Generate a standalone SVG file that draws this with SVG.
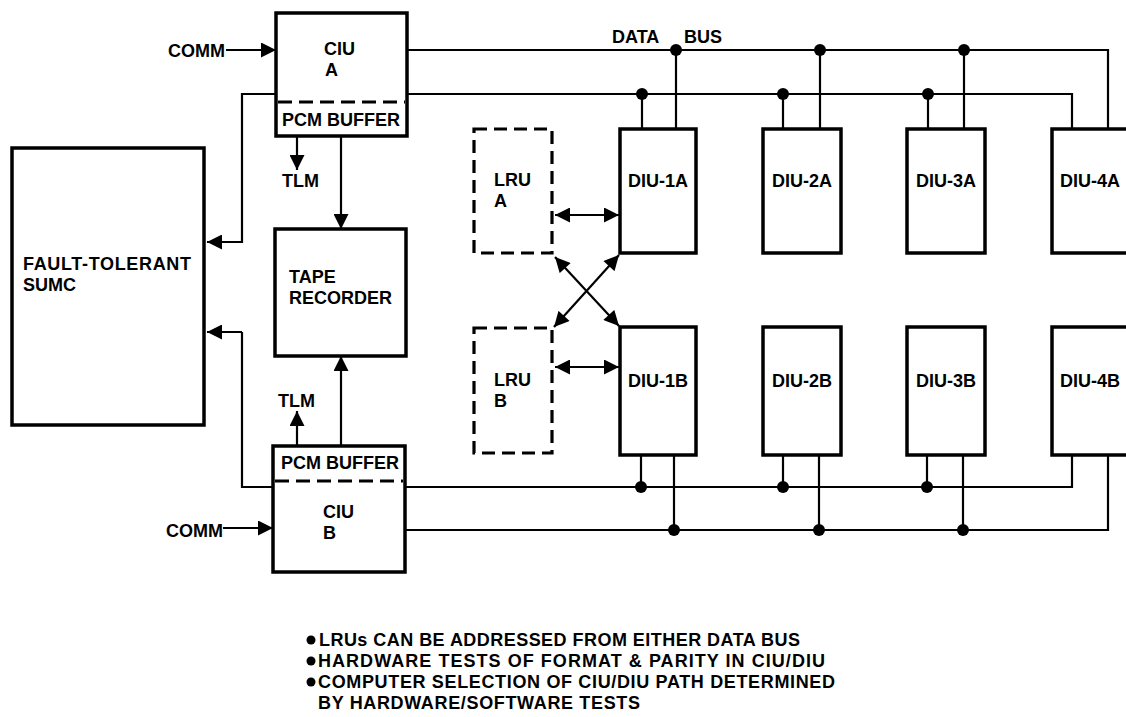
<svg xmlns="http://www.w3.org/2000/svg" width="1126" height="717" viewBox="0 0 1126 717">
<style>
text{font-family:"Liberation Sans",Arial,sans-serif;font-weight:bold;font-size:18px;fill:#000}
.box{fill:#fff;stroke:#000;stroke-width:3.5}
.dbox{fill:#fff;stroke:#000;stroke-width:3.2;stroke-dasharray:13 7}
.div{stroke:#000;stroke-width:3.2;stroke-dasharray:14 7}
.ln{fill:none;stroke:#000;stroke-width:2.2}
.arr{fill:none;stroke:#000;stroke-width:2.2;marker-end:url(#ah)}
.arr2{fill:none;stroke:#000;stroke-width:2.2;marker-end:url(#ah);marker-start:url(#ah)}
.dot{fill:#000}
</style>
<defs>
<marker id="ah" viewBox="0 0 16 16" refX="16" refY="8" markerWidth="16" markerHeight="15" markerUnits="userSpaceOnUse" orient="auto-start-reverse">
<path d="M0,0 L16,8 L0,16 z" fill="#000"/>
</marker>
</defs>
<rect width="1126" height="717" fill="#fff"/>
<g id="connectors">
<line class="arr" x1="226" y1="50" x2="276" y2="50"/>
<line class="arr" x1="223" y1="528" x2="273" y2="528"/>
<polyline class="ln" points="407,50 1108,50 1108,129"/>
<polyline class="ln" points="207,242 242,242 242,94 1072,94 1072,129"/>
<line class="arr" x1="242" y1="242" x2="207" y2="242"/>
<line class="ln" x1="676" y1="50" x2="676" y2="129"/>
<line class="ln" x1="820" y1="50" x2="820" y2="129"/>
<line class="ln" x1="964" y1="50" x2="964" y2="129"/>
<line class="ln" x1="642" y1="94" x2="642" y2="129"/>
<line class="ln" x1="783" y1="94" x2="783" y2="129"/>
<line class="ln" x1="928" y1="94" x2="928" y2="129"/>
<polyline class="ln" points="405,530 1108,530 1108,455"/>
<polyline class="ln" points="242,332 242,487 1072,487 1072,455"/>
<line class="arr" x1="242" y1="332" x2="207" y2="332"/>
<line class="ln" x1="641" y1="455" x2="641" y2="487"/>
<line class="ln" x1="783" y1="455" x2="783" y2="487"/>
<line class="ln" x1="927" y1="455" x2="927" y2="487"/>
<line class="ln" x1="674" y1="455" x2="674" y2="530"/>
<line class="ln" x1="819" y1="455" x2="819" y2="530"/>
<line class="ln" x1="963" y1="455" x2="963" y2="530"/>
<circle class="dot" cx="676" cy="50" r="6"/>
<circle class="dot" cx="820" cy="50" r="6"/>
<circle class="dot" cx="964" cy="50" r="6"/>
<circle class="dot" cx="642" cy="94" r="6"/>
<circle class="dot" cx="783" cy="94" r="6"/>
<circle class="dot" cx="928" cy="94" r="6"/>
<circle class="dot" cx="641" cy="487" r="6"/>
<circle class="dot" cx="783" cy="487" r="6"/>
<circle class="dot" cx="927" cy="487" r="6"/>
<circle class="dot" cx="674" cy="530" r="6"/>
<circle class="dot" cx="819" cy="530" r="6"/>
<circle class="dot" cx="963" cy="530" r="6"/>
<line class="arr" x1="297" y1="136" x2="297" y2="170"/>
<line class="arr" x1="341" y1="136" x2="341" y2="229"/>
<line class="arr" x1="297" y1="446" x2="297" y2="411"/>
<line class="arr" x1="341" y1="446" x2="341" y2="356"/>
<line class="arr2" x1="555" y1="215" x2="619" y2="215"/>
<line class="arr2" x1="555" y1="367" x2="619" y2="367"/>
<line class="arr2" x1="555" y1="257" x2="619" y2="326"/>
<line class="arr2" x1="554" y1="327" x2="619" y2="255"/>
</g>
<g id="ciu-a">
<rect class="box" x="276" y="13" width="131" height="123"/>
<line class="div" x1="278" y1="102" x2="405" y2="102"/>
<text x="324" y="55">CIU</text>
<text x="325" y="76">A</text>
<text x="282" y="126">PCM BUFFER</text>
</g>
<g id="ciu-b">
<rect class="box" x="273" y="446" width="132" height="126"/>
<line class="div" x1="275" y1="481" x2="403" y2="481"/>
<text x="281" y="469">PCM BUFFER</text>
<text x="323" y="518">CIU</text>
<text x="323" y="539">B</text>
</g>
<g id="comm-labels">
<text x="168" y="57">COMM</text>
<text x="166" y="537">COMM</text>
</g>
<g id="tlm-labels">
<text x="282" y="187">TLM</text>
<text x="278" y="407">TLM</text>
</g>
<g id="sumc">
<rect class="box" x="12" y="148" width="192" height="277"/>
<text x="23" y="270" textLength="168" lengthAdjust="spacing">FAULT-TOLERANT</text>
<text x="23" y="291">SUMC</text>
</g>
<g id="tape-recorder">
<rect class="box" x="275" y="229" width="131" height="127"/>
<text x="289" y="283">TAPE</text>
<text x="289" y="304">RECORDER</text>
</g>
<g id="lru-a">
<rect class="dbox" x="474" y="129" width="78" height="124"/>
<text x="494" y="186">LRU</text>
<text x="494" y="207">A</text>
</g>
<g id="lru-b">
<rect class="dbox" x="474" y="328" width="78" height="125"/>
<text x="494" y="386">LRU</text>
<text x="494" y="407">B</text>
</g>
<g id="diu-1a"><rect class="box" x="620" y="129" width="76" height="124"/><text x="628" y="187">DIU-1A</text></g>
<g id="diu-2a"><rect class="box" x="763" y="129" width="78" height="124"/><text x="772" y="187">DIU-2A</text></g>
<g id="diu-3a"><rect class="box" x="907" y="129" width="78" height="124"/><text x="916" y="187">DIU-3A</text></g>
<g id="diu-4a"><rect class="box" x="1052" y="129" width="78" height="124"/><text x="1060" y="187">DIU-4A</text></g>
<g id="diu-1b"><rect class="box" x="620" y="327" width="76" height="128"/><text x="628" y="387">DIU-1B</text></g>
<g id="diu-2b"><rect class="box" x="763" y="327" width="78" height="128"/><text x="772" y="387">DIU-2B</text></g>
<g id="diu-3b"><rect class="box" x="907" y="327" width="78" height="128"/><text x="916" y="387">DIU-3B</text></g>
<g id="diu-4b"><rect class="box" x="1052" y="327" width="78" height="128"/><text x="1060" y="387">DIU-4B</text></g>
<g id="bus-label">
<text x="612" y="43">DATA</text>
<text x="684" y="43">BUS</text>
</g>
<g id="notes">
<circle class="dot" cx="311" cy="640" r="4.5"/>
<text x="319" y="646" textLength="481" lengthAdjust="spacing">LRUs CAN BE ADDRESSED FROM EITHER DATA BUS</text>
<circle class="dot" cx="311" cy="661" r="4.5"/>
<text x="318" y="667" textLength="507" lengthAdjust="spacing">HARDWARE TESTS OF FORMAT &amp; PARITY IN CIU/DIU</text>
<circle class="dot" cx="311" cy="682" r="4.5"/>
<text x="318" y="688" textLength="517" lengthAdjust="spacing">COMPUTER SELECTION OF CIU/DIU PATH DETERMINED</text>
<text x="318" y="709" textLength="322" lengthAdjust="spacing">BY HARDWARE/SOFTWARE TESTS</text>
</g>
</svg>
